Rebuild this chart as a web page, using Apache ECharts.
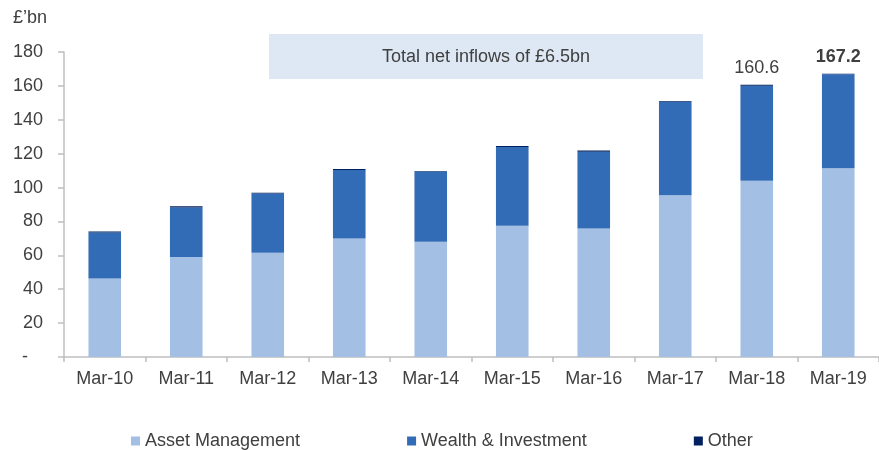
<!DOCTYPE html>
<html>
<head>
<meta charset="utf-8">
<script src="https://cdn.jsdelivr.net/npm/echarts@6/dist/echarts.min.js"></script>
<style>
  html, body { margin: 0; padding: 0; background: #fff; }
  #main { width: 879px; height: 450px; }
</style>
</head>
<body>
<div id="main"></div>
<script>
// 数据
var categories = ['Mar-10', 'Mar-11', 'Mar-12', 'Mar-13', 'Mar-14', 'Mar-15', 'Mar-16', 'Mar-17', 'Mar-18', 'Mar-19'];
var assetMgmt = [46.3, 59.0, 61.5, 69.9, 68.0, 77.4, 75.8, 95.5, 104.0, 111.4];
var wealthInv = [27.2, 29.2, 35.0, 40.5, 41.5, 46.6, 45.4, 55.0, 56.1, 55.4];
var other = [0.6, 0.8, 0.4, 0.6, 0.3, 0.5, 0.6, 0.5, 0.5, 0.4];
var totalLabels = ['', '', '', '', '', '', '', '', '160.6', '167.2'];
var boldTotal = [false, false, false, false, false, false, false, false, false, true];

var textColor = '#404040';
var fontFamily = 'Liberation Sans, Arial, sans-serif';

var myChart = echarts.init(document.getElementById('main'));

var otherData = other.map(function (v, i) {
  if (!totalLabels[i]) return v;
  return {
    value: v,
    label: {
      show: true,
      position: 'top',
      distance: 8,
      formatter: totalLabels[i],
      color: textColor,
      fontSize: 18,
      fontFamily: fontFamily,
      fontWeight: boldTotal[i] ? 'bold' : 'normal'
    }
  };
});

var option = {
  animation: false,
  textStyle: { fontFamily: fontFamily },
  grid: { left: 64, right: -2, top: 52, bottom: 93 },
  legend: {
    left: 126,
    top: 427,
    itemWidth: 9,
    itemHeight: 9,
    itemGap: 107,
    icon: 'rect',
    textStyle: { color: textColor, fontSize: 18, fontFamily: fontFamily },
    data: ['Asset Management', 'Wealth & Investment', 'Other']
  },
  graphic: [
    {
      type: 'text', left: 13, top: 9,
      style: { text: '£’bn', fill: textColor, fontSize: 18, fontFamily: fontFamily }
    },
    {
      type: 'rect', shape: { x: 269, y: 34, width: 434, height: 45 },
      style: { fill: '#dee8f4' }
    },
    {
      type: 'text', x: 486, y: 57,
      style: { text: 'Total net inflows of £6.5bn', fill: textColor, fontSize: 18, fontFamily: fontFamily, align: 'center', verticalAlign: 'middle' }
    }
  ],
  xAxis: {
    type: 'category',
    data: categories,
    axisLine: { lineStyle: { color: '#bfbfbf', width: 1.5 } },
    axisTick: { show: true, length: 5, lineStyle: { color: '#bfbfbf', width: 1.5 } },
    axisLabel: { color: textColor, fontSize: 18, margin: 13 }
  },
  yAxis: {
    type: 'value',
    min: 0,
    max: 180,
    interval: 20,
    axisLine: { show: true, lineStyle: { color: '#bfbfbf', width: 1.5 } },
    axisTick: { show: true, length: 6, inside: false, lineStyle: { color: '#bfbfbf', width: 1.5 } },
    splitLine: { show: false },
    axisLabel: {
      color: textColor, fontSize: 18, margin: 21,
      formatter: function (v) { return v === 0 ? '-   ' : v; }
    }
  },
  series: [
    {
      name: 'Asset Management', type: 'bar', stack: 'aum',
      barCategoryGap: '60%',
      itemStyle: { color: '#a4bfe4' },
      data: assetMgmt
    },
    {
      name: 'Wealth & Investment', type: 'bar', stack: 'aum',
      itemStyle: { color: '#336cb6' },
      data: wealthInv
    },
    {
      name: 'Other', type: 'bar', stack: 'aum',
      itemStyle: { color: '#002060' },
      data: otherData
    }
  ]
};

myChart.setOption(option);
</script>
</body>
</html>
